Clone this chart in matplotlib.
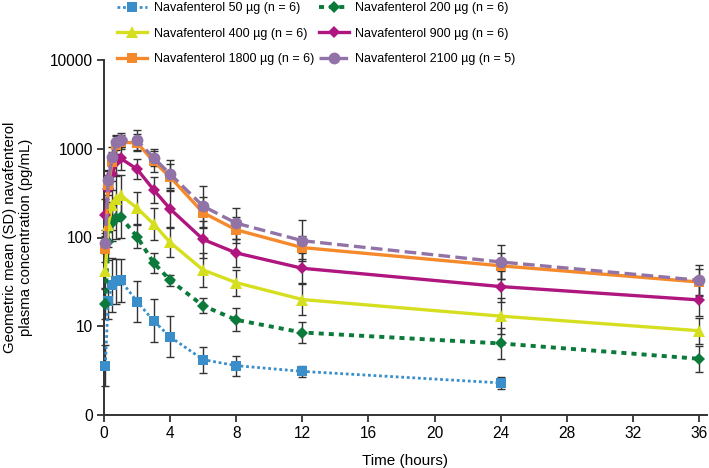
import numpy as np
import matplotlib
matplotlib.use("Agg")
import matplotlib.pyplot as plt

plt.rcParams['font.family'] = ['Liberation Sans', 'DejaVu Sans']

times = [0.083, 0.25, 0.5, 0.75, 1, 2, 3, 4, 6, 8, 12, 24, 36]

labels = ["Navafenterol 50 µg (n = 6)", "Navafenterol 200 µg (n = 6)",
          "Navafenterol 400 µg (n = 6)", "Navafenterol 900 µg (n = 6)",
          "Navafenterol 1800 µg (n = 6)", "Navafenterol 2100 µg (n = 5)"]

mean_50 = [3.6, 19.5, 29, 32, 33, 19, 11.5, 7.6, 4.2, 3.6, 3.1, 2.3]
mean_200 = [18, 90, 145, 165, 170, 102, 52, 33, 17, 11.8, 8.5, 6.4, 4.3]
mean_400 = [42, 140, 230, 275, 300, 215, 142, 88, 43, 31, 20, 13, 8.9]
mean_900 = [180, 350, 520, 700, 780, 590, 345, 210, 95, 67, 45, 28, 19.8]
mean_1800 = [74, 390, 700, 1100, 1180, 1170, 720, 480, 190, 122, 77, 48, 31.5]
mean_2100 = [87, 440, 800, 1200, 1250, 1250, 790, 520, 225, 145, 92, 53, 33]

gsd_50 = [1.7, 1.6, 2.0, 1.8, 1.75, 1.7, 1.75, 1.7, 1.4, 1.3, 1.15, 1.18]
gsd_200 = [1.5, 1.6, 1.6, 1.7, 1.7, 1.35, 1.3, 1.16, 1.22, 1.35, 1.3, 1.5, 1.4]
gsd_400 = [1.6, 1.8, 1.9, 1.8, 1.7, 1.5, 1.5, 1.45, 1.55, 1.4, 1.5, 1.6, 1.4]
gsd_900 = [1.5, 1.6, 1.5, 1.4, 1.35, 1.3, 1.4, 1.6, 1.6, 1.45, 1.47, 1.5, 1.5]
gsd_1800 = [1.4, 1.3, 1.3, 1.25, 1.2, 1.25, 1.3, 1.4, 1.5, 1.4, 1.35, 1.4, 1.4]
gsd_2100 = [1.3, 1.3, 1.3, 1.2, 1.2, 1.3, 1.25, 1.45, 1.7, 1.5, 1.7, 1.55, 1.5]

means = [mean_50, mean_200, mean_400, mean_900, mean_1800, mean_2100]
gsds = [gsd_50, gsd_200, gsd_400, gsd_900, gsd_1800, gsd_2100]
colors = ['#3a8fcb', '#0b7a3b', '#d6df1f', '#b0167f', '#f58a2c', '#9173a8']
markers = ['s', 'D', '^', 'D', 's', 'o']
msizes = [6.5, 6.5, 8.5, 6.5, 6.5, 8.5]
styles = [(0, (1, 1)), (0, (1.3, 1.3)), '-', '-', '-', (0, (3.5, 1.6))]
lws = [2.0, 2.8, 2.4, 2.4, 2.4, 2.4]

ytick_vals = [1, 10, 100, 1000, 10000]
ytick_labels = ['0', '10', '100', '1000', '10000']
xtick_vals = list(range(0, 37, 4))

fig = plt.figure(figsize=(7.09, 4.68), dpi=100)
ax = fig.add_axes([104/709, 1-415/468, 603/709, 355/468])

handles = []
for i in range(6):
    t = np.array(times[:len(means[i])])
    m = np.array(means[i], dtype=float)
    g = np.array(gsds[i], dtype=float)
    lo = m - m / g
    hi = m * g - m
    ax.errorbar(t, m, yerr=[lo, hi], fmt='none', ecolor='#333333',
                elinewidth=1.0, capsize=3, capthick=1.0, zorder=2 + i * 0.1, clip_on=False)
    ln, = ax.plot(t, m, color=colors[i], linestyle=styles[i], linewidth=lws[i],
                  marker=markers[i], markersize=msizes[i], markeredgewidth=0,
                  zorder=3 + i * 0.1, clip_on=False, label=labels[i])
    handles.append(ln)

ax.set_yscale('log')
ax.set_ylim(1, 10000)
ax.set_xlim(0, 36.48)
ax.set_yticks(ytick_vals)
ax.set_yticklabels(ytick_labels)
ax.yaxis.set_minor_locator(matplotlib.ticker.NullLocator())
ax.set_xticks(xtick_vals)

for s in ['top', 'right']:
    ax.spines[s].set_visible(False)
for s in ['left', 'bottom']:
    ax.spines[s].set_color('#333333')
    ax.spines[s].set_linewidth(1.4)
ax.tick_params(axis='both', length=5, width=1.3, color='#333333', labelsize=11.2, pad=3)

ax.set_xlabel('Time (hours)', fontsize=11, labelpad=9)
ax.set_ylabel('Geometric mean (SD) navafenterol\nplasma concentration (pg/mL)',
              fontsize=10.7, linespacing=1.25)
ax.yaxis.set_label_coords(-0.117, 0.5)

order = [0, 2, 4, 1, 3, 5]
leg = fig.legend([handles[k] for k in order], [labels[k] for k in order],
                 ncol=2, loc='upper left', bbox_to_anchor=(111/709, 1 + 4/468),
                 frameon=False, fontsize=9.0, handlelength=2.4, handletextpad=0.5,
                 columnspacing=0.4, labelspacing=1.08, borderpad=0.0)

fig.savefig('out.png', dpi=100)
